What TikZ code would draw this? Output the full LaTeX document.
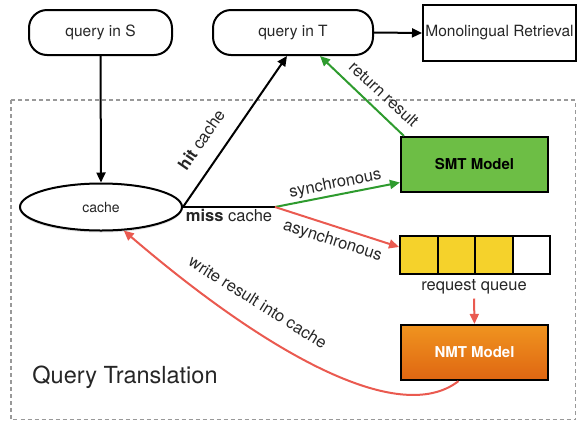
\documentclass[tikz,border=0pt]{standalone}
\usepackage{fontspec}
\setmainfont{TeX Gyre Heros}
\usetikzlibrary{arrows.meta,shapes.geometric,shadows}

\definecolor{smtgreen}{HTML}{6DBE45}
\definecolor{arrowgreen}{HTML}{2E9B2E}
\definecolor{asyncred}{HTML}{EA5A50}
\definecolor{queueyellow}{HTML}{F5D22B}
\definecolor{nmttop}{HTML}{F0941F}
\definecolor{nmtbot}{HTML}{DF6612}
\definecolor{framegray}{HTML}{999999}
\definecolor{txtgray}{HTML}{262626}

\tikzset{
  querybox/.style={draw, line width=2pt, rounded corners=18pt, minimum height=45pt,
    inner sep=0pt, font=\fontsize{15.5}{18}\selectfont, text=txtgray},
  modelbox/.style={draw, line width=2.2pt, minimum width=147pt, minimum height=55pt,
    inner sep=0pt, font=\fontsize{15}{18}\selectfont\bfseries},
  slot/.style={draw, line width=2pt, minimum width=37.5pt, minimum height=38pt, inner sep=0pt},
  lbl/.style={font=\fontsize{16.5}{19}\selectfont, text=txtgray, inner sep=2pt},
  tip/.style={-{Triangle[length=10pt,width=9pt]}},
}

\begin{document}
\begin{tikzpicture}[x=1pt, y=-1pt]
  \useasboundingbox (0,0) rectangle (577,421);

  % Draw the dashed frame
  \draw[framegray, line width=1.8pt, dash pattern=on 4pt off 3pt] (11,100) rectangle (575.5,419.5);
  \node[lbl, font=\fontsize{23.5}{27}\selectfont] (qtrans) at (125,377) {Query Translation};

  % Draw the queries
  \node[querybox, minimum width=143pt] (qS) at (100.5,32.5) {query in S};
  \node[querybox, minimum width=160pt] (qT) at (293,32.5) {query in T};
  \node[draw, line width=2pt, minimum width=153pt, minimum height=56pt, inner sep=0pt,
    font=\fontsize{15.5}{18}\selectfont, text=txtgray] (mono) at (499.5,33) {Monolingual Retrieval};

  % Draw the cache
  \node[draw, ellipse, line width=2pt, fill=white, minimum width=162pt, minimum height=47pt,
    inner sep=0pt, font=\fontsize{14}{16}\selectfont, text=txtgray,
    drop shadow={shadow xshift=0pt, shadow yshift=-2pt, opacity=0.25}] (cache) at (101,207) {cache};

  % Draw the models
  \node[modelbox, fill=smtgreen] (smt) at (474.5,164.5) {SMT Model};
  \node[modelbox, top color=nmttop, bottom color=nmtbot, text=white] (nmt) at (474.5,352.5) {NMT Model};

  % Draw the request queue
  \foreach \i/\c in {1/queueyellow,2/queueyellow,3/queueyellow,4/white}
    \node[slot, fill=\c] (slot\i) at ({381.25+37.5*\i},255) {};
  \node[lbl] (qlabel) at (474,287) {request queue};

  % Draw the black arrows
  \draw[line width=2pt, tip] (qS.south) -- (cache.north);
  \draw[line width=2pt, tip] (qT.east) -- (mono.west);
  \draw[line width=2pt, tip] (cache.east) -- ([xshift=-6pt]qT.south)
    node[lbl, pos=0.36, above=14pt, sloped] (hit) {\textbf{hit} cache};
  \coordinate (split) at (275,207);
  \draw[line width=2pt] (cache.east) -- (split) node[lbl, midway, below, inner sep=1pt] (miss) {\textbf{miss} cache};

  % Draw the synchronous path
  \draw[arrowgreen, line width=2pt, tip] (split) -- ([yshift=-18pt]smt.west)
    node[lbl, midway, above, sloped] (sync) {synchronous};
  \draw[arrowgreen, line width=2pt, tip] ([xshift=4pt]smt.north west) -- ([xshift=27pt]qT.south);
  \node[lbl, rotate=-42.5] (ret) at (384,94) {return result};

  % Draw the asynchronous path
  \draw[asyncred, line width=2pt, tip] (split) -- ([yshift=8pt]slot1.west)
    node[lbl, midway, below=4pt, sloped] (async) {asynchronous};
  \draw[asyncred, line width=2pt, tip] ([yshift=-2pt]qlabel.south) -- (nmt.north);
  \draw[asyncred, line width=2pt, tip] ([xshift=-16pt]nmt.south) .. controls (398,428) and (263,350) .. (cache.-46);
  \node[lbl, rotate=-32] (wlabel) at (258,302) {write result into cache};
\end{tikzpicture}
\end{document}
